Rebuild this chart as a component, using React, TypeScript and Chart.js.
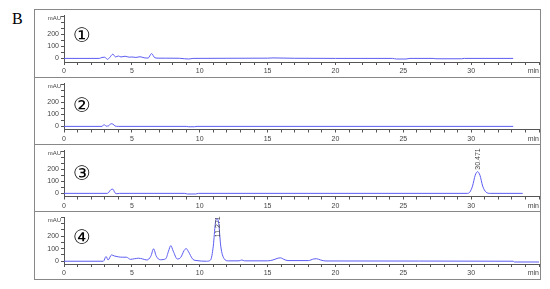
import React, { useEffect, useRef } from "react";
import { Chart, registerables } from "chart.js";

Chart.register(...registerables);

// retention time (min), absorbance (mAU) pairs for each trace
const trace1: [number, number][] = [
  [0, 0], [2.6, 0], [2.8, 8], [3.0, 10], [3.2, -8], [3.35, 5], [3.6, 35], [3.8, 12], [4.0, 20], [4.2, 12],
  [4.5, 18], [4.8, 10], [5.0, 12], [5.3, 8], [5.6, 14], [5.9, 5], [6.2, 3], [6.45, 40], [6.7, 5], [7.0, 2],
  [7.5, 2], [8.5, 1], [8.9, -3], [9.2, -5], [9.5, 0], [12, 1], [15, 2], [15.4, 4], [17, 1], [20, 0],
  [24.2, 0], [24.5, -5], [25.2, -5], [25.5, 0], [27.2, 0], [27.4, -3], [29.3, -3], [29.5, 0], [33.1, 0],
];
const trace2: [number, number][] = [
  [0, 0], [2.8, 0], [2.95, 15], [3.1, 2], [3.3, 5], [3.45, 22], [3.6, 20], [3.75, 3], [4, 0], [9, 0],
  [9.2, -3], [9.6, -3], [9.8, 0], [33.1, 0],
];
const trace3: [number, number][] = [
  [0, 0], [3.2, 0], [3.45, 30], [3.6, 35], [3.75, 5], [3.9, -3], [4.1, 0], [8.9, 0], [9.1, -5], [9.7, -5],
  [9.9, 0], [29.7, 0], [29.9, 10], [30.1, 60], [30.3, 150], [30.47, 180], [30.65, 150], [30.85, 60],
  [31.1, 10], [31.4, 0], [33.8, 0],
];
const trace4: [number, number][] = [
  [0, 0], [2.9, 0], [3.1, 37], [3.25, 10], [3.5, 50], [3.7, 42], [4.0, 35], [4.3, 32], [4.6, 32], [4.9, 15],
  [5.2, 20], [5.5, 24], [5.8, 18], [6.1, 10], [6.4, 40], [6.6, 99], [6.8, 40], [7.1, 12], [7.5, 20],
  [7.7, 80], [7.87, 124], [8.05, 80], [8.35, 18], [8.6, 30], [8.85, 85], [9.0, 101], [9.15, 80], [9.5, 15],
  [9.8, 5], [10.5, 0], [10.8, 10], [11.0, 120], [11.15, 300], [11.27, 340], [11.4, 300], [11.55, 120],
  [11.8, 20], [12.1, 3], [12.9, 3], [13.1, 10], [13.3, 3], [15.0, 3], [15.4, 10], [15.7, 22], [15.95, 27],
  [16.2, 15], [16.5, 5], [18.0, 5], [18.4, 18], [18.6, 20], [18.9, 10], [19.3, 2], [33.1, 0], [33.2, -6],
  [35, -6],
];

const panelLabels = ["①", "②", "③", "④"];
const xTickLabels = [0, 5, 10, 15, 20, 25, 30];
const yTickLabels = [0, 100, 200];
const peakLabels: ({ t: number; v: number; text: string } | null)[] = [
  null,
  null,
  { t: 30.47, v: 180, text: "30.471" },
  { t: 11.27, v: 175, text: "11.271" },
];

const panels = [
  { top: 9, h: 68, padTop: 2, xh: 15, yMin: -30, yMax: 360, data: trace1, numTop: 26 },
  { top: 77, h: 67, padTop: 1, xh: 14.5, yMin: -26, yMax: 360, data: trace2, numTop: 28 },
  { top: 144, h: 67, padTop: 2, xh: 14.5, yMin: -26, yMax: 358, data: trace3, numTop: 28.5 },
  { top: 211, h: 69, padTop: 3, xh: 16, yMin: -22, yMax: 350, data: trace4, numTop: 25.5 },
];

const FONT = "'Liberation Sans', Arial, sans-serif";
const AXIS = "#555";

function Panel({ idx }: { idx: number }) {
  const ref = useRef<HTMLCanvasElement | null>(null);
  const p = panels[idx];
  useEffect(() => {
    if (!ref.current) return;
    const peak = peakLabels[idx];
    const extras = {
      id: "extras",
      afterDraw(chart: any) {
        const ctx = chart.ctx;
        const a = chart.chartArea;
        ctx.save();
        ctx.fillStyle = "#444";
        ctx.font = `6px ${FONT}`;
        ctx.textAlign = "right";
        ctx.textBaseline = "middle";
        ctx.fillText("mAU", a.left - 3, a.top + 3);
        ctx.font = `7px ${FONT}`;
        ctx.textBaseline = "top";
        ctx.fillText("min", a.right, a.bottom + 6);
        if (peak) {
          const xs = chart.scales.x;
          const ys = chart.scales.y;
          const px = xs.getPixelForValue(peak.t);
          const py = ys.getPixelForValue(peak.v);
          ctx.translate(px + 1, py - 2);
          ctx.rotate(-Math.PI / 2);
          ctx.textAlign = "left";
          ctx.textBaseline = "middle";
          ctx.font = `7px ${FONT}`;
          ctx.fillText(peak.text, 0, 0);
        }
        ctx.restore();
      },
    };
    const chart = new Chart(ref.current, {
      type: "line",
      data: {
        datasets: [
          {
            data: p.data.map(([x, y]) => ({ x, y })),
            borderColor: "#5c5cf2",
            borderWidth: 1,
            pointRadius: 0,
            cubicInterpolationMode: "monotone",
            fill: false,
          },
        ],
      },
      options: {
        animation: false,
        responsive: false,
        events: [],
        layout: { padding: { top: p.padTop, left: 0, right: 0, bottom: 0 } },
        plugins: { legend: { display: false }, tooltip: { enabled: false }, title: { display: false } },
        scales: {
          x: {
            type: "linear",
            min: 0,
            max: 35,
            afterFit: (s: any) => {
              s.height = p.xh;
            },
            border: { display: true, color: AXIS, width: 1 },
            grid: { drawOnChartArea: false, drawTicks: true, tickLength: 3, color: AXIS, tickColor: AXIS },
            ticks: {
              stepSize: 1,
              autoSkip: false,
              maxRotation: 0,
              padding: 2,
              color: "#444",
              font: { size: 7, family: FONT },
              callback: (v: any) => (xTickLabels.includes(Number(v)) ? String(v) : ""),
            },
          },
          y: {
            type: "linear",
            min: p.yMin,
            max: p.yMax,
            afterFit: (s: any) => {
              s.width = 30;
            },
            border: { display: true, color: AXIS, width: 1 },
            grid: { drawOnChartArea: false, drawTicks: true, tickLength: 3, color: AXIS, tickColor: AXIS },
            ticks: {
              stepSize: 50,
              includeBounds: false,
              autoSkip: false,
              padding: 2,
              color: "#444",
              font: { size: 7, family: FONT },
              callback: (v: any) => (yTickLabels.includes(Number(v)) ? String(v) : ""),
            },
          },
        },
      },
      plugins: [extras],
    } as any);
    return () => chart.destroy();
  }, [idx]);
  return (
    <>
      <canvas
        ref={ref}
        width={507}
        height={p.h}
        style={{ position: "absolute", left: 34, top: p.top, width: 507, height: p.h }}
      />
      <span
        style={{
          position: "absolute",
          left: 82,
          top: p.top + p.numTop,
          transform: "translate(-50%, -50%)",
          fontFamily: "'DejaVu Sans', sans-serif",
          fontSize: 20,
          lineHeight: "20px",
          color: "#000",
        }}
      >
        {panelLabels[idx]}
      </span>
    </>
  );
}

export default function App() {
  return (
    <div style={{ position: "fixed", left: 0, top: 0, width: 550, height: 289, background: "#fff", overflow: "hidden" }}>
      <span
        style={{
          position: "absolute",
          left: 12,
          top: 11,
          fontFamily: "'Liberation Serif', 'Times New Roman', serif",
          fontSize: 16,
          lineHeight: "16px",
          color: "#000",
        }}
      >
        B
      </span>
      <div style={{ position: "absolute", left: 34, top: 9, width: 507, height: 271, border: "1px solid #888", boxSizing: "border-box" }} />
      {[77, 144, 211].map((y) => (
        <div key={y} style={{ position: "absolute", left: 34, top: y, width: 507, height: 1, background: "#888" }} />
      ))}
      {panels.map((_, i) => (
        <Panel key={i} idx={i} />
      ))}
    </div>
  );
}
